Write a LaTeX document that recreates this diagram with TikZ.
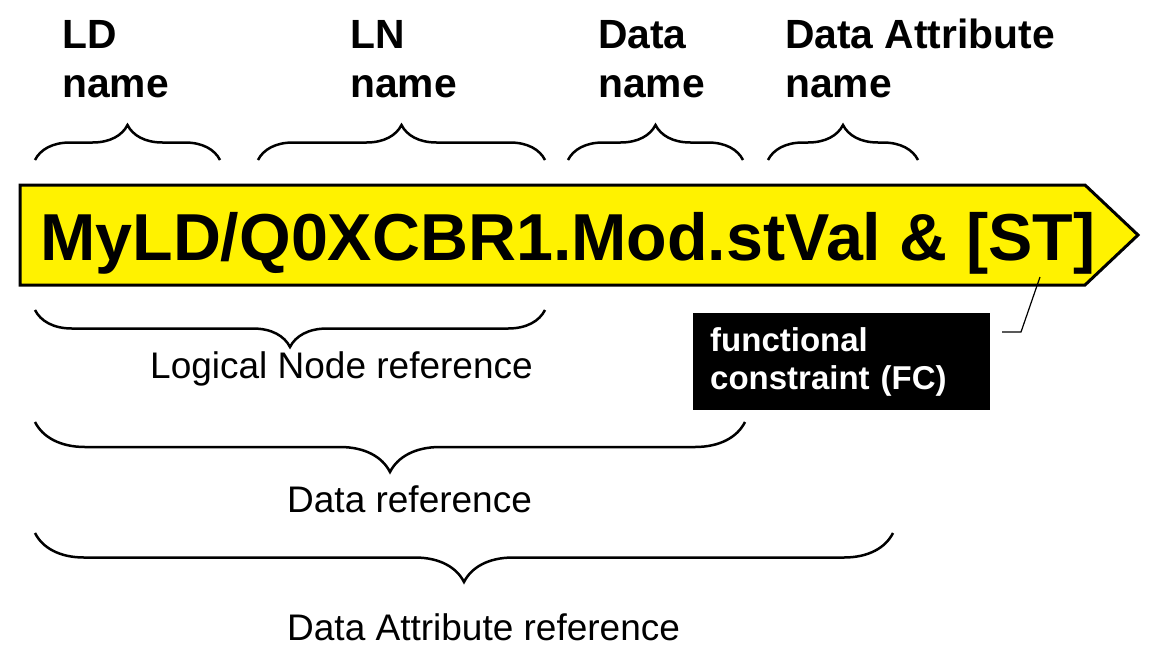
\documentclass[tikz,border=0pt]{standalone}
\usepackage{fontspec}
\setmainfont{Liberation Sans}
\usetikzlibrary{decorations.pathreplacing}

\begin{document}
\begin{tikzpicture}[
    x=1pt,y=-1pt,
    toplabel/.style={anchor=base west,align=left,inner sep=0pt,font=\fontsize{40.8}{49}\selectfont\bfseries},
    reflabel/.style={anchor=base west,inner sep=0pt,font=\fontsize{37}{44}\selectfont},
    curly/.style={decorate,decoration={brace,amplitude=#1},line width=2.5pt},
    fcbox/.style={fill=black,text=white,anchor=north west,align=left,inner xsep=17pt,
      text width=263pt,minimum height=97pt,font=\fontsize{33}{38}\selectfont\bfseries}
    ]
    \useasboundingbox (0,0) rectangle (1151,654);

    \draw[fill=yellow,line width=3pt] (20,185) -- (1085,185) -- (1138,235) -- (1085,285) -- (20,285) -- cycle;
    \node (ref) [anchor=base west,inner sep=0pt,font=\fontsize{66.4}{70}\selectfont\bfseries] at (40,260) {MyLD/Q0XCBR1.Mod.stVal \& [ST]};

    \node (ld) [toplabel] at (62,97) {LD\\name};
    \node (ln) [toplabel] at (350,97) {LN\\name};
    \node (do) [toplabel] at (598,97) {Data\\name};
    \node (da) [toplabel] at (785,97) {Data Attribute\\name};

    \foreach \a/\b in {35/220,258/545,568/743,768/918}
      \draw[curly=35pt] (\a,160) -- (\b,160);

    \draw[curly=37pt] (545,310) -- (35,310);
    \draw[curly=50pt] (745,422) -- (35,422);
    \draw[curly=49pt] (893,533) -- (35,533);

    \node (lnref) [reflabel] at (150,378) {Logical Node reference};
    \node (doref) [reflabel] at (287,512) {Data reference};
    \node (daref) [reflabel] at (287,640) {Data Attribute reference};

    \node (fc) [fcbox] at (693,313) {functional\\constraint (FC)};
    \coordinate (st) at (1040,277);
    \draw[line width=1.2pt] (st) -- ++(-19,55) -- ++(-19,0);

  \end{tikzpicture}
\end{document}
